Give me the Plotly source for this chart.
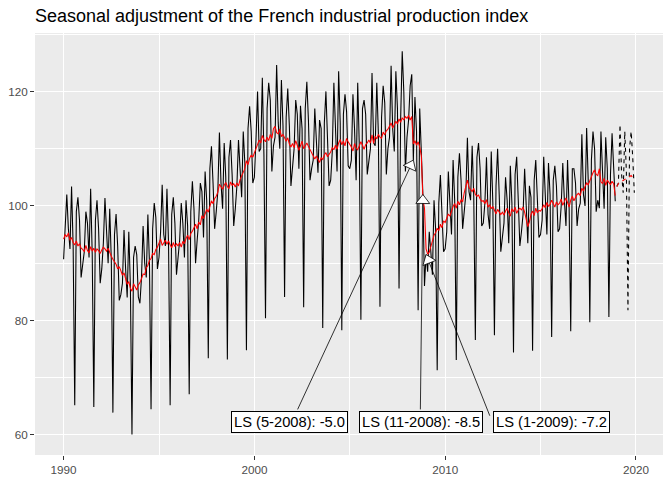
import math
import numpy as np
import plotly.graph_objects as go

# French industrial production index (raw), monthly from 1990-01
raw = [
    90.7, 95.5, 102.0, 96.0, 92.5, 103.4, 93.0, 65.2, 99.0, 101.5, 97.5, 87.5,
    89.5, 92.0, 99.0, 97.0, 91.0, 103.0, 91.5, 64.9, 97.5, 101.0, 96.0, 86.5,
    89.0, 93.5, 101.4, 95.5, 90.0, 99.5, 90.5, 63.9, 95.0, 98.6, 93.0, 83.5,
    84.5, 86.5, 95.8, 89.0, 84.0, 95.5, 86.0, 60.1, 91.0, 93.0, 91.5, 84.1,
    83.0, 87.5, 96.5, 90.0, 87.5, 98.5, 90.0, 64.5, 96.0, 100.5, 98.0, 89.0,
    91.0, 95.5, 103.7, 95.0, 93.0, 103.0, 93.5, 65.2, 98.5, 101.5, 97.0, 88.0,
    90.5, 94.0, 100.5, 97.0, 91.0, 101.0, 96.5, 67.1, 99.0, 104.3, 99.5, 90.0,
    94.0, 97.5, 104.0, 102.5, 94.5, 106.0, 101.0, 73.4, 106.5, 110.4, 104.0, 96.0,
    99.0, 102.5, 112.8, 104.0, 99.5, 111.0, 105.0, 73.2, 108.5, 111.5, 105.5, 96.5,
    99.5, 103.5, 111.5, 106.0, 101.5, 113.0, 107.5, 74.8, 113.5, 117.4, 113.0, 104.0,
    105.0, 111.5, 120.0, 109.5, 110.0, 122.4, 109.0, 80.4, 117.0, 121.5, 118.5, 106.0,
    110.5, 112.0, 124.6, 114.5, 110.0, 122.0, 114.0, 84.1, 115.5, 120.5, 114.0, 103.5,
    107.5, 110.0, 118.5, 116.0, 106.5, 117.5, 113.5, 82.3, 117.0, 121.7, 115.0, 104.5,
    106.5, 108.0, 117.0, 111.5, 105.8, 115.0, 113.5, 78.7, 114.5, 120.0, 112.0, 103.5,
    104.5, 109.5, 121.5, 113.0, 106.0, 123.5, 114.5, 78.3, 116.0, 119.5, 116.5, 107.0,
    106.5, 108.0, 119.5, 113.5, 104.5, 121.5, 110.5, 80.1, 117.0, 118.5, 116.0, 105.5,
    108.0, 110.0, 123.2, 111.0, 110.5, 121.5, 112.5, 82.4, 115.5, 121.0, 118.0, 105.5,
    110.0, 112.0, 124.5, 113.5, 109.5, 123.5, 117.0, 85.6, 115.0, 127.0, 120.0, 106.0,
    112.0, 115.0, 121.0, 123.0, 108.0, 119.0, 113.0, 81.8, 117.0, 110.0, 102.0, 86.0,
    91.5, 88.5, 95.5, 92.0, 88.0, 101.0, 96.0, 71.3, 100.5, 105.4, 99.5, 92.0,
    92.5, 95.5, 106.0, 101.5, 95.0, 108.0, 101.0, 73.1, 105.0, 109.2, 104.5, 96.0,
    99.0, 102.0, 111.9, 102.5, 101.0, 110.5, 101.5, 76.6, 108.5, 111.0, 106.5, 96.5,
    97.0, 100.5, 108.5, 98.5, 96.0, 109.5, 100.5, 77.4, 103.5, 110.0, 102.0, 92.0,
    94.5, 97.0, 105.0, 101.0, 93.5, 107.0, 100.5, 74.4, 105.5, 108.6, 101.0, 93.0,
    95.5, 98.5, 106.5, 99.0, 93.5, 103.5, 101.5, 74.7, 104.5, 108.0, 99.5, 94.5,
    95.0, 97.5, 108.6, 101.5, 95.0, 107.5, 102.0, 77.1, 104.5, 107.0, 103.5, 95.5,
    96.0, 100.0, 107.5, 101.0, 96.5, 108.0, 99.5, 78.1, 106.5, 106.5, 104.0, 96.5,
    99.5, 100.5, 112.5, 102.0, 100.0, 113.6, 104.5, 79.7, 108.0, 113.0, 110.0, 99.0,
    101.0, 99.6, 113.0, 106.0, 99.5, 112.0, 106.5, 80.6, 105.5, 112.7, 107.5, 100.8,
]

# seasonally adjusted series
sa = [
    94.2, 95.0, 94.6, 95.3, 94.0, 94.5, 93.6, 93.2, 93.9, 93.0, 93.4, 92.6,
    92.4, 92.0, 93.1, 92.2, 91.8, 92.9, 92.1, 92.6, 91.9, 92.5, 92.2, 91.7,
    92.3, 92.8, 92.5, 92.1, 92.6, 91.8, 91.2, 90.7, 90.2, 89.8, 89.0, 89.4,
    88.7, 87.9, 88.3, 87.2, 86.3, 86.8, 85.6, 85.1, 86.4, 85.9, 85.3, 86.2,
    86.6, 87.3, 88.1, 88.0, 89.2, 89.6, 90.5, 90.8, 91.7, 91.5, 92.4, 92.8,
    93.5, 94.2, 93.1, 93.6, 94.0, 93.3, 93.9, 93.2, 92.7, 93.6, 92.9, 93.4,
    93.0, 93.6, 92.8, 93.8, 93.4, 94.3, 94.9, 94.1, 95.2, 95.6, 96.3, 96.8,
    96.0, 97.2, 96.7, 98.3, 97.8, 98.5, 99.4, 98.9, 100.2, 100.9, 100.4, 101.3,
    101.7, 102.4, 103.8, 103.2, 102.9, 103.6, 104.1, 103.4, 103.0, 104.2, 103.6, 103.9,
    103.3, 104.0, 103.5, 104.6, 105.2, 105.8, 106.5, 107.9, 107.2, 108.3, 108.9, 108.5,
    109.2, 110.1, 110.8, 111.5, 111.0, 112.3, 111.6, 111.2, 112.0, 111.4, 112.5, 111.8,
    113.5, 113.9, 112.8, 112.6, 113.4, 112.1, 112.5, 111.8, 111.3, 111.9, 110.8, 110.3,
    110.9, 110.2, 111.4, 110.6, 109.7, 110.5, 111.3, 110.0, 110.6, 111.0, 110.4, 109.8,
    109.3, 108.9, 108.2, 108.7, 108.0, 107.6, 108.4, 108.1, 108.9, 109.3, 108.6, 109.1,
    109.4, 110.2, 109.8, 110.6, 109.9, 111.0, 111.6, 110.7, 111.3, 110.5, 111.8, 111.2,
    110.8, 110.3, 109.6, 110.9, 110.1, 109.8, 110.5, 111.2, 110.6, 109.9, 110.7, 111.0,
    111.5, 111.0, 112.4, 110.9, 112.2, 111.7, 112.5, 112.0, 111.8, 112.9, 112.4, 113.1,
    113.4, 113.9, 114.5, 113.6, 114.1, 114.8, 114.3, 115.2, 114.6, 115.4, 115.0, 115.6,
    115.3, 115.8, 115.0, 115.6, 110.8, 111.4, 110.6, 111.2, 110.3, 108.8, 101.2, 99.6,
    92.5, 91.6, 91.9, 92.8, 93.6, 94.9, 95.3, 96.1, 95.7, 96.8, 96.2, 97.4,
    97.1, 97.8, 98.6, 98.2, 99.3, 99.9, 100.4, 99.6, 100.8, 100.2, 101.1, 100.7,
    102.3, 103.6, 104.5, 103.2, 102.8, 102.5, 103.1, 102.0, 101.7, 101.9, 101.2, 100.8,
    100.9, 100.4, 101.1, 99.8, 100.2, 99.5, 99.9, 99.1, 98.6, 99.4, 98.9, 98.5,
    98.9, 98.4, 99.1, 99.6, 98.8, 98.2, 99.5, 99.0, 99.8, 98.7, 99.3, 99.6,
    99.3, 99.8, 98.9, 97.6, 96.4, 97.2, 98.5, 99.1, 98.3, 99.6, 98.8, 99.2,
    99.1, 99.5, 100.2, 99.7, 100.6, 99.9, 100.3, 101.0, 100.4, 99.8, 100.7, 100.2,
    100.5, 101.2, 100.1, 100.9, 101.4, 100.6, 99.8, 101.0, 101.7, 100.9, 101.5, 102.0,
    102.2, 101.8, 103.1, 102.6, 103.4, 104.0, 103.7, 104.5, 105.2, 105.8, 106.3, 105.5,
    105.3, 106.5, 104.2, 103.9, 104.8, 103.6, 104.5, 104.0, 103.7, 104.3, 103.9, 101.8,
]

# one-year forecasts (2019)
raw_fc = [103.4, 104.0, 114.2, 105.5, 102.3, 113.0, 106.0, 81.8, 110.0, 113.0, 108.5, 102.3]
sa_fc = [103.4, 103.9, 104.1, 104.3, 104.4, 104.6, 104.8, 104.9, 105.1, 105.3, 105.0, 105.2]

# outliers: type, year, month, coefficient
out_type = ["LS", "LS", "LS"]
out_year = [2008, 2008, 2009]
out_month = [5, 11, 1]
out_coef = [-5.0, -8.5, -7.2]

start = 1990
dates = start + np.arange(len(raw)) / 12
fc_dates = dates[-1] + np.arange(1, len(raw_fc) + 1) / 12

# layout geometry
W, H = 672, 480
ML, MR, MT, MB = 35, 9, 33, 25
xr = [1988.5, 2021.42]
yr = [56.5, 130.2]
pw, ph = W - ML - MR, H - MT - MB

def to_px(x, y):
    return ((x - xr[0]) / (xr[1] - xr[0]) * pw, (yr[1] - y) / (yr[1] - yr[0]) * ph)

def to_data(px, py):
    return (xr[0] + px / pw * (xr[1] - xr[0]), yr[1] - py / ph * (yr[1] - yr[0]))

# label boxes (centre) and where their segments start
label_pos = [(2001.84, 62.2), (2008.71, 62.2), (2015.59, 62.2)]
seg_start = [(2002.23, 64.2), (2008.70, 64.2), (2012.37, 63.1)]

fig = go.Figure()
fig.add_trace(go.Scatter(x=dates, y=raw, mode="lines",
                         line=dict(color="black", width=1.07), hoverinfo="skip"))
fig.add_trace(go.Scatter(x=fc_dates, y=raw_fc, mode="lines",
                         line=dict(color="black", width=1.07, dash="4px,4px"), hoverinfo="skip"))
fig.add_trace(go.Scatter(x=dates, y=sa, mode="lines",
                         line=dict(color="red", width=1.07), hoverinfo="skip"))
fig.add_trace(go.Scatter(x=fc_dates, y=sa_fc, mode="lines",
                         line=dict(color="red", width=1.07, dash="4px,4px"), hoverinfo="skip"))

annotations = []
mx, my, mang = [], [], []
for i in range(len(out_type)):
    idx = (out_year[i] - start) * 12 + out_month[i] - 1
    px0, py0 = to_px(dates[idx], raw[idx])
    sx, sy = to_px(*seg_start[i])
    dx, dy = px0 - sx, py0 - sy
    n = math.hypot(dx, dy)
    ux, uy = dx / n, dy / n
    cx, cy = to_data(px0 - ux * 6, py0 - uy * 6)
    mx.append(cx)
    my.append(cy)
    mang.append(math.degrees(math.atan2(dx, -dy)))
    annotations.append(dict(
        x=dates[idx], y=raw[idx], xref="x", yref="y",
        ax=seg_start[i][0], ay=seg_start[i][1], axref="x", ayref="y",
        text="", showarrow=True, arrowhead=0, arrowwidth=0.8,
        arrowcolor="black", standoff=9))
    annotations.append(dict(
        x=label_pos[i][0], y=label_pos[i][1], xref="x", yref="y",
        text=f"{out_type[i]} ({out_month[i]}-{out_year[i]}): {out_coef[i]:.1f}",
        showarrow=False, bgcolor="white", bordercolor="black", borderwidth=1,
        borderpad=2, font=dict(family="Liberation Sans, Arial", size=14.7, color="black")))

fig.add_trace(go.Scatter(x=mx, y=my, mode="markers", hoverinfo="skip",
                         marker=dict(symbol="triangle-up", size=12, angle=mang,
                                     color="white", line=dict(color="black", width=0.8))))

fig.update_layout(
    width=W, height=H,
    margin=dict(l=ML, r=MR, t=MT, b=MB),
    paper_bgcolor="white", plot_bgcolor="#EBEBEB",
    showlegend=False,
    font=dict(family="Liberation Sans, Arial"),
    title=dict(text="Seasonal adjustment of the French industrial production index",
               x=ML / W, xanchor="left", xref="container",
               y=1 - 16 / H, yanchor="middle", yref="container",
               font=dict(size=18, color="black")),
    annotations=annotations,
)
fig.update_xaxes(range=xr, tickvals=[1990, 2000, 2010, 2020], ticks="outside", ticklen=4,
                 tickcolor="#333333", tickwidth=1.07, showgrid=True, gridcolor="white",
                 gridwidth=1.07, zeroline=False, showline=False, automargin=False,
                 tickfont=dict(size=11.7, color="#4D4D4D"),
                 minor=dict(tickvals=[1995, 2005, 2015], showgrid=True, gridcolor="white", gridwidth=0.53))
fig.update_yaxes(range=yr, tickvals=[60, 80, 100, 120], ticks="outside", ticklen=4,
                 tickcolor="#333333", tickwidth=1.07, showgrid=True, gridcolor="white",
                 gridwidth=1.07, zeroline=False, showline=False, automargin=False,
                 tickfont=dict(size=11.7, color="#4D4D4D"),
                 minor=dict(tickvals=[70, 90, 110, 130], showgrid=True, gridcolor="white", gridwidth=0.53))

fig.write_html("out.html", config={"displayModeBar": False},
               post_script="document.body.style.margin='0';")
